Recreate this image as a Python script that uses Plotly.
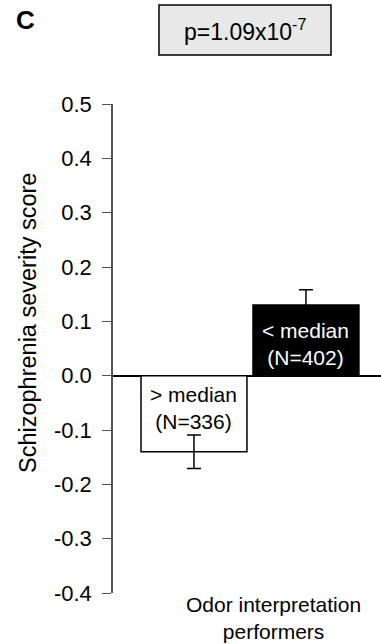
import plotly.graph_objects as go

# ---- data ----
groups = ["> median", "< median"]
n_subjects = [336, 402]
means = [-0.14, 0.13]
sems = [0.031, 0.028]
fills = ["white", "black"]
text_colors = ["black", "white"]
y_ticks = [0.5, 0.4, 0.3, 0.2, 0.1, 0.0, -0.1, -0.2, -0.3, -0.4]
y_tick_labels = ["0.5", "0.4", "0.3", "0.2", "0.1", "0.0", "-0.1", "-0.2", "-0.3", "-0.4"]
p_text = "p=1.09x10<sup>-7</sup>"
panel_label = "C"
y_title = "Schizophrenia severity score"
x_title = "Odor interpretation<br>performers"

FONT = "Liberation Sans, Arial, sans-serif"
W, H = 381, 644
L, R, T, B = 113, 0, 104, 51
pw, ph = W - L - R, H - T - B


def px_x(px):
    return (px - L) / pw


def px_y(py):
    return (H - B - py) / ph


xs = list(range(len(groups)))

fig = go.Figure()
fig.add_trace(go.Bar(
    x=xs, y=means, width=0.946,
    marker=dict(color=fills, line=dict(color="black", width=1.5)),
    error_y=dict(type="data", array=sems, visible=True, color="black",
                 thickness=1.5, width=7),
    showlegend=False, hoverinfo="skip",
))

for i, (g, n) in enumerate(zip(groups, n_subjects)):
    sign = 1 if means[i] > 0 else -1
    fig.add_annotation(
        x=xs[i], y=0, xref="x", yref="y",
        text=f"{g}<br>(N={n})", showarrow=False,
        yanchor="middle", yshift=sign * 32,
        font=dict(family=FONT, size=21, color=text_colors[i]),
    )

# p-value box
fig.add_shape(type="rect", xref="paper", yref="paper",
              x0=px_x(159), x1=px_x(331), y0=px_y(55), y1=px_y(5),
              fillcolor="#e8e8e8", line=dict(color="black", width=1.5))
fig.add_annotation(x=px_x(245), y=px_y(30), xref="paper", yref="paper",
                   text=p_text, showarrow=False, xanchor="center", yanchor="middle",
                   font=dict(family=FONT, size=23, color="black"))

# panel label
fig.add_annotation(x=px_x(14), y=px_y(20), xref="paper", yref="paper",
                   text=f"<b>{panel_label}</b>", showarrow=False,
                   xanchor="left", yanchor="middle",
                   font=dict(family=FONT, size=26, color="black"))

# y title
fig.add_annotation(x=px_x(28), y=px_y(323), xref="paper", yref="paper",
                   text=y_title, showarrow=False, textangle=-90,
                   xanchor="center", yanchor="middle",
                   font=dict(family=FONT, size=23.5, color="black"))

# x title
fig.add_annotation(x=px_x(273), y=px_y(618), xref="paper", yref="paper",
                   text=x_title, showarrow=False,
                   xanchor="center", yanchor="middle",
                   font=dict(family=FONT, size=21, color="black"))

fig.update_layout(
    width=W, height=H,
    margin=dict(l=L, r=R, t=T, b=B, pad=0),
    paper_bgcolor="white", plot_bgcolor="white",
    font=dict(family=FONT, size=22, color="black"),
    xaxis=dict(range=[-0.723, 1.67], showticklabels=False, ticks="",
               showgrid=False, zeroline=False, showline=False, fixedrange=True),
    yaxis=dict(range=[-0.4, 0.5], tickvals=y_ticks, ticktext=y_tick_labels,
               ticks="outside", ticklen=9, tickwidth=1, tickcolor="#555555",
               showline=True, linecolor="#555555", linewidth=1.5,
               showgrid=False, zeroline=True, zerolinecolor="black",
               zerolinewidth=1.5, ticklabelstandoff=6,
               tickfont=dict(family=FONT, size=22, color="black"),
               fixedrange=True),
)

fig.write_html("out.html")
